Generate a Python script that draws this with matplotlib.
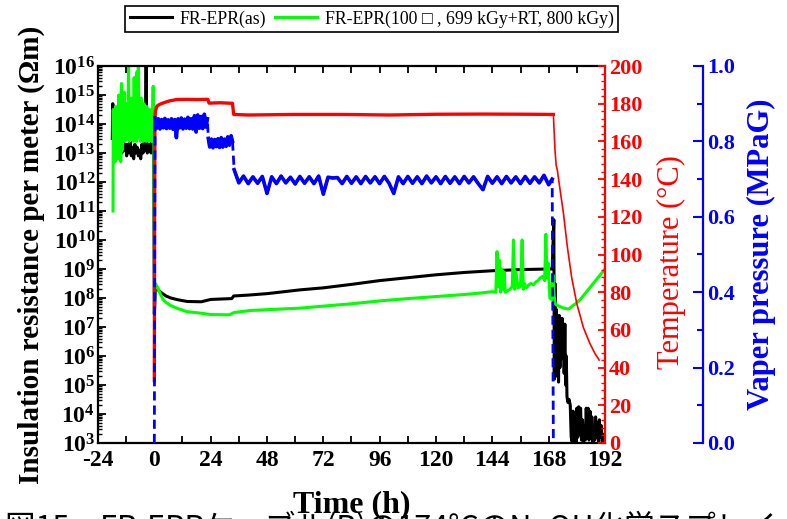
import numpy as np
import matplotlib
matplotlib.use("Agg")
import matplotlib.pyplot as plt
from matplotlib.ticker import MultipleLocator, LogLocator, NullFormatter, FormatStrFormatter

plt.rcParams['font.family'] = ['Liberation Serif', 'DejaVu Sans']
plt.rcParams['font.weight'] = 'bold'
plt.rcParams['axes.unicode_minus'] = False
plt.rcParams['mathtext.fontset'] = 'custom'
plt.rcParams['mathtext.rm'] = 'Liberation Serif:bold'
plt.rcParams['mathtext.bf'] = 'Liberation Serif:bold'
plt.rcParams['mathtext.it'] = 'Liberation Serif:bold:italic'
plt.rcParams['mathtext.default'] = 'rm'

# ---- insulation resistance, FR-EPR(as)  (log10 of Ohm m) ----
black_pre_t = [-17.9, -17.7, -17.5, -17.2, -16.8, -16.3, -15.8, -15.3, -14.8, -14.3,
               -13.8, -13.3, -12.8, -12.3, -11.8, -11.3, -10.8, -10.3, -9.8, -9.3,
               -8.8, -8.3, -7.8, -7.3, -6.8, -6.3, -5.8, -5.3, -4.8, -4.3,
               -3.8, -3.5, -3.3, -3.0, -2.6, -2.2, -1.8, -1.4, -1.0, -0.6, -0.3]
black_pre = [13.5, 14.7, 13.6, 14.2, 13.4, 13.9, 13.2, 13.7, 13.1, 13.5,
             13.0, 13.4, 13.1, 13.3, 12.9, 13.3, 13.0, 13.4, 12.9, 13.2,
             12.8, 13.3, 13.0, 13.2, 12.9, 13.1, 12.8, 13.3, 13.0, 13.4,
             13.1, 16.0, 13.2, 13.0, 13.3, 13.1, 13.3, 13.0, 14.5, 14.0, 14.3]
black_run_t = [0.0, 0.2, 0.5, 1.0, 2.0, 3.5, 5.0, 7.0, 10.0, 14.0, 20.0, 24.0, 33.0,
               33.8, 40.0, 48.0, 62.0, 72.0, 84.0, 96.0, 108.0, 120.0, 132.0, 144.0,
               156.0, 168.0]
black_run = [7.45, 7.8, 8.38, 8.35, 8.25, 8.15, 8.07, 8.0, 7.94, 7.88, 7.87, 7.95, 7.98,
             8.07, 8.1, 8.15, 8.28, 8.35, 8.47, 8.6, 8.7, 8.8, 8.88, 8.94,
             8.98, 9.0]
black_end_t = [169.5, 170.2, 170.4, 170.7, 171.0, 171.3, 171.6, 171.9, 172.2, 172.5,
               172.8, 173.1, 173.4, 173.7, 174.0, 174.3, 174.6, 174.9, 175.2, 175.5,
               175.8, 176.2, 176.7, 177.2, 177.6, 178.0, 178.4, 178.8, 179.2, 179.6,
               180.0, 180.4, 180.8, 181.2, 181.6, 182.0, 182.4, 182.8, 183.2, 183.6,
               184.0, 184.4, 184.8, 185.2, 185.6, 186.0, 186.4, 186.8, 187.2, 187.6,
               188.0, 188.4, 188.8, 189.2, 189.6, 190.0, 190.4, 190.8, 191.2, 191.6]
black_end = [9.0, 10.7, 5.2, 8.5, 5.3, 7.6, 5.8, 7.2, 5.1, 7.4,
             5.6, 7.0, 5.9, 7.3, 6.2, 6.9, 5.4, 7.1, 5.0, 6.0,
             4.6, 4.4, 4.5, 4.3, 3.2, 3.05, 4.1, 3.1, 3.6, 3.05,
             4.2, 3.2, 4.25, 3.3, 4.2, 3.1, 3.8, 3.05, 3.5, 3.1,
             4.2, 3.3, 4.2, 3.1, 4.1, 3.2, 3.9, 3.05, 3.4, 3.1,
             3.9, 3.2, 3.7, 3.05, 3.8, 3.2, 3.6, 3.05, 3.3, 3.05]

# ---- insulation resistance, FR-EPR(100 C, 699 kGy+RT, 800 kGy) ----
green_pre_t = [-17.6, -17.5, -17.3, -17.0, -16.7, -16.4, -16.1, -15.8, -15.5, -15.2,
               -14.9, -14.6, -14.3, -14.0, -13.7, -13.4, -13.1, -12.8, -12.5, -12.2,
               -11.9, -11.6, -11.3, -11.0, -10.7, -10.4, -10.1, -9.8, -9.5, -9.2,
               -8.9, -8.6, -8.3, -8.0, -7.7, -7.4, -7.1, -6.8, -6.5, -6.2,
               -5.9, -5.6, -5.3, -5.0, -4.7, -4.4, -4.1, -3.8, -3.5, -3.2,
               -2.9, -2.6, -2.3, -2.0, -1.7, -1.4, -1.1, -0.8, -0.5, -0.2]
green_pre = [11.0, 14.5, 12.9, 14.2, 12.7, 14.6, 13.0, 14.4, 12.8, 15.0,
             13.0, 14.3, 12.7, 15.4, 13.1, 14.5, 13.5, 15.1, 13.4, 14.2,
             13.5, 14.7, 13.6, 16.0, 13.4, 14.6, 13.5, 14.9, 13.6, 14.3,
             13.4, 15.6, 13.6, 14.8, 13.4, 15.8, 13.5, 16.0, 13.6, 14.5,
             13.4, 14.9, 13.5, 14.4, 13.4, 14.7, 13.6, 14.2, 13.4, 14.6,
             13.5, 14.1, 13.4, 14.5, 13.6, 14.0, 13.4, 14.3, 15.3, 13.8]
green_run_t = [0.1, 0.3, 0.8, 1.5, 2.5, 3.6, 5.0, 6.5, 9.5, 13.8, 19.5, 24.0, 32.0,
               34.0, 41.0, 62.0, 72.0, 84.0, 96.0, 108.0, 120.0, 132.0, 140.0, 144.0]
green_run = [8.0, 8.5, 8.45, 8.35, 8.15, 7.96, 7.85, 7.76, 7.65, 7.53, 7.48, 7.43, 7.42,
             7.5, 7.57, 7.65, 7.72, 7.8, 7.9, 7.98, 8.05, 8.12, 8.18, 8.22]
green_end_t = [145.5, 146.0, 146.5, 147.0, 147.5, 148.0, 148.5, 149.0, 149.5, 150.5,
               151.5, 152.5, 153.0, 153.5, 154.0, 155.0, 156.0, 156.7, 157.2, 157.7,
               158.5, 159.5, 160.5, 161.5, 162.5, 163.5, 164.5, 165.5, 166.3, 166.8,
               167.3, 167.8, 168.5, 169.2, 169.8, 170.3, 170.8, 171.5, 172.5, 173.5,
               174.5, 175.5, 176.5, 177.5, 178.5, 179.5, 180.5, 181.5, 182.5, 183.5,
               184.5, 185.5, 186.5, 187.5, 188.5, 189.5, 190.5, 191.5, 192.0]
green_end = [8.2, 9.6, 8.4, 9.3, 8.2, 9.0, 8.3, 8.9, 8.2, 8.25,
             8.3, 8.4, 10.0, 8.3, 8.9, 8.35, 8.4, 10.0, 8.3, 8.5,
             8.35, 8.45, 8.5, 8.45, 8.55, 8.6, 8.7, 8.75, 8.6, 10.2,
             8.7, 9.2, 8.0, 7.95, 8.8, 8.1, 7.8, 7.75, 7.72, 7.68,
             7.65, 7.63, 7.62, 7.68, 7.75, 7.8, 7.88, 7.95, 8.05, 8.15,
             8.25, 8.35, 8.45, 8.55, 8.65, 8.75, 8.85, 8.95, 9.0]

# ---- temperature (C) ----
red_hold_t = [0.0, 0.1, 0.25, 0.5, 1.0, 2.0, 4.0, 6.5, 9.5, 14.0, 18.0, 22.8, 23.3,
              28.0, 33.3, 33.8, 40.0, 60.0, 80.0, 100.0, 120.0, 140.0, 160.0, 170.0]
red_hold = [33, 120, 172, 176, 178.5, 179.5, 180.5, 181.5, 182.2, 182.3, 182.2, 182.3, 180.3,
            180.5, 180.2, 174.3, 174.0, 174.3, 174.3, 174.0, 174.4, 174.5, 174.4, 174.3]
red_cool_t = [170.0, 170.7, 171.2, 171.7, 172.9, 174.3, 176.0, 177.8, 180.0, 182.8,
              185.6, 187.8, 189.2, 189.5]
red_cool = [174.3, 155.3, 147.3, 144.7, 134.0, 121.8, 103.7, 87.8, 73.9, 61.2,
            52.7, 47.3, 44.7, 44.0]

# ---- vapor pressure (MPaG) ----
blue_t = [0.0, 0.3, 1.0, 1.7, 2.4, 3.1, 3.8, 4.5, 5.2, 5.9, 6.6, 7.3, 8.0, 8.7, 9.4,
          10.1, 10.8, 11.5, 12.2, 12.9, 13.6, 14.3, 15.0, 15.7, 16.4, 17.1, 17.8,
          18.5, 19.2, 19.9, 20.6, 21.3, 22.0, 22.6,
          23.0, 23.6, 24.3, 25.0, 25.7, 26.4, 27.1, 27.8, 28.5, 29.2, 29.9, 30.6,
          31.3, 32.0, 32.7, 33.3,
          34, 36, 38, 40, 42, 44, 46, 48, 50, 52, 54, 56, 58, 60, 62, 64, 66, 68,
          70, 72, 74, 76, 78, 80, 82, 84, 86, 88, 90, 92, 94, 96, 98, 100, 102, 104,
          106, 108, 110, 112, 114, 116, 118, 120, 122, 124, 126, 128, 130, 132, 134,
          136, 138, 140, 142, 144, 146, 148, 150, 152, 154, 156, 158, 160, 162, 164,
          166, 168, 169.5, 170.0]
blue_p = [0.0, 0.862, 0.835, 0.86, 0.833, 0.858, 0.836, 0.861, 0.834, 0.857, 0.835,
          0.86, 0.832, 0.858, 0.81, 0.86, 0.836, 0.862, 0.833, 0.859, 0.835, 0.864,
          0.834, 0.86, 0.833, 0.868, 0.825, 0.87, 0.835, 0.866, 0.834, 0.872, 0.838, 0.86,
          0.808, 0.785, 0.806, 0.783, 0.805, 0.786, 0.807, 0.784, 0.81, 0.785, 0.806,
          0.787, 0.812, 0.79, 0.815, 0.8,
          0.725, 0.69, 0.708, 0.688, 0.706, 0.689, 0.707, 0.662, 0.706, 0.688, 0.708,
          0.69, 0.705, 0.687, 0.707, 0.689, 0.706, 0.688, 0.708, 0.66, 0.705, 0.703,
          0.704, 0.688, 0.707, 0.689, 0.706, 0.688, 0.707, 0.69, 0.706, 0.688, 0.707,
          0.689, 0.662, 0.706, 0.688, 0.707, 0.689, 0.706, 0.688, 0.708, 0.69, 0.706,
          0.688, 0.707, 0.689, 0.706, 0.688, 0.707, 0.69, 0.706, 0.688, 0.672, 0.707,
          0.689, 0.706, 0.688, 0.707, 0.69, 0.706, 0.688, 0.707, 0.689, 0.706, 0.69,
          0.71, 0.685, 0.70, 0.0]

caption = "図15　FR-EPRケーブル(B)の174°CのNaOH化学スプレイ"
label_as = "FR-EPR(as)"
label_irr = "FR-EPR(100 □ , 699 kGy+RT, 800 kGy)"

black_t = black_pre_t + black_run_t + black_end_t
black_r = 10.0 ** np.array(black_pre + black_run + black_end)
green_t = green_pre_t + green_run_t + green_end_t
green_r = 10.0 ** np.array(green_pre + green_run + green_end)

W, H = 787, 519
fig = plt.figure(figsize=(W / 100, H / 100), dpi=100)
ax = fig.add_axes([98 / W, 1 - 443 / H, 507 / W, 377 / H])

lb, = ax.plot(black_t, black_r, color='black', lw=2.2)
lg, = ax.plot(green_t, green_r, color='#00ff00', lw=2.2)
ax.set_yscale('log')
ax.set_xlim(-24, 192)
ax.set_ylim(1e3, 1e16)
ax.xaxis.set_major_locator(MultipleLocator(24))
ax.xaxis.set_minor_locator(MultipleLocator(12))
ax.yaxis.set_major_locator(LogLocator(base=10, numticks=20))
ax.yaxis.set_minor_locator(LogLocator(base=10, subs=np.arange(2, 10), numticks=200))
ax.yaxis.set_minor_formatter(NullFormatter())
ax.tick_params(axis='x', which='both', direction='in', top=True, length=5, width=1.3,
               labelsize=17, pad=5)
ax.tick_params(axis='y', which='major', direction='in', right=False, length=6, width=1.3,
               labelsize=17, pad=2)
ax.tick_params(axis='y', which='minor', direction='in', right=False, length=3, width=1.0)
for s in ['left', 'top', 'bottom']:
    ax.spines[s].set_linewidth(1.6)
ax.spines['right'].set_visible(False)
ax.set_xlabel("Time (h)", fontsize=23, fontweight='bold')
ax.xaxis.set_label_coords(0.5, -0.125)
ax.set_ylabel("Insulation resistance per meter (Ωm)", fontsize=21, fontweight='bold')
ax.yaxis.set_label_coords(-0.105, 0.5)

# temperature axis
ax_t = ax.twinx()
ax_t.plot(red_hold_t, red_hold, color='red', lw=2.4)
ax_t.plot(red_cool_t, red_cool, color='red', lw=1.2)
ax_t.set_ylim(0, 200)
ax_t.yaxis.set_major_locator(MultipleLocator(20))
ax_t.yaxis.set_minor_locator(MultipleLocator(4))
ax_t.tick_params(axis='y', which='major', direction='in', colors='red', length=5,
                 width=1.3, labelsize=16, pad=3)
ax_t.tick_params(axis='y', which='minor', direction='in', colors='red', length=3, width=1.0)
for s in ['left', 'top', 'bottom']:
    ax_t.spines[s].set_visible(False)
ax_t.spines['right'].set_color('red')
ax_t.spines['right'].set_linewidth(1.6)
ax_t.set_ylabel("Temperature (°C)", color='red', fontsize=22, fontweight='normal')
ax_t.yaxis.set_label_coords(1.1026, 0.48)

# pressure axis: dashed trace, the noisy plateaus drawn dense on top
ax_p = ax.twinx()
bt = np.array(blue_t)
bp = np.array(blue_p)
ax_p.plot(bt, bp, color='blue', lw=2.0, ls=(0, (3.3, 1.8)))
cuts = np.where(np.abs(np.diff(bp)) > 0.05)[0] + 1
for seg_t, seg_p in zip(np.split(bt, cuts), np.split(bp, cuts)):
    if len(seg_t) > 2:
        ax_p.plot(seg_t, seg_p, color='blue', lw=2.6)
ax_p.set_ylim(0, 1.0)
ax_p.spines['right'].set_position(('axes', (703 - 98) / 507))
ax_p.yaxis.set_major_locator(MultipleLocator(0.2))
ax_p.yaxis.set_minor_locator(MultipleLocator(0.1))
ax_p.yaxis.set_major_formatter(FormatStrFormatter('%.1f'))
ax_p.tick_params(axis='y', which='major', direction='in', colors='blue', length=7,
                 width=1.5, labelsize=16, pad=3)
ax_p.tick_params(axis='y', which='minor', direction='in', colors='blue', length=4, width=1.5)
for s in ['left', 'top', 'bottom']:
    ax_p.spines[s].set_visible(False)
ax_p.spines['right'].set_color('blue')
ax_p.spines['right'].set_linewidth(1.6)
ax_p.set_ylabel("Vaper pressure (MPaG)", color='blue', fontsize=22, fontweight='bold')
ax_p.yaxis.set_label_coords(1.28, 0.5)

leg = fig.legend([lb, lg], [label_as, label_irr], loc='center',
                 bbox_to_anchor=(371.5 / W, 1 - 19 / H), ncol=2, frameon=True,
                 fancybox=False, edgecolor='black', framealpha=1,
                 prop={'family': ['Liberation Serif', 'DejaVu Sans'], 'size': 12.8, 'weight': 'normal'},
                 handlelength=2.4, handletextpad=0.4, columnspacing=0.5,
                 borderpad=0.25, borderaxespad=0)
leg.get_frame().set_linewidth(1.2)

fig.text(5 / W, 1 - 512 / H, caption, fontsize=22, fontweight='normal', va='top',
         family=['Noto Sans CJK JP', 'DejaVu Sans'])

fig.savefig("out.png", dpi=100)
